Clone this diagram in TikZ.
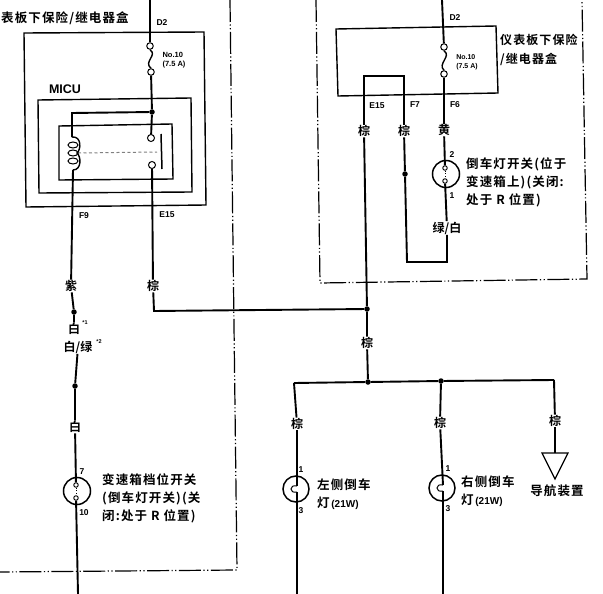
\documentclass[tikz,border=0pt]{standalone}
\usepackage{fontspec}
\newfontfamily\cjk{Noto Sans CJK SC Bold}
\newfontfamily\cjkw{Noto Sans CJK SC Bold}[LetterSpace=9]
\setmainfont{Liberation Sans}
\newcommand{\wattlabel}{{\rmfamily\bfseries\fontsize{10}{18}\selectfont\,(21W)}}
\usetikzlibrary{calc}
\tikzset{
 x=1pt,y=-1pt,
 wire/.style={line width=1.9pt,line join=miter},
 thin wire/.style={line width=1.4pt},
 box/.style={line width=1.4pt},
 border/.style={line width=1.2pt,dash pattern=on 22pt off 2.5pt on 1.2pt off 2.5pt on 1.2pt off 2.5pt},
 zh/.style={font=\cjkw\fontsize{12.5}{18}\selectfont,inner sep=0pt,align=left,anchor=west},
 wl/.style={font=\cjk\fontsize{12}{12}\selectfont,inner sep=0.5pt},
 pin/.style={font=\bfseries\fontsize{8.5}{9.5}\selectfont,inner sep=0pt},
 dot/.style={circle,fill=black,inner sep=0pt,minimum size=5.5pt},
 fusec/.style={circle,draw,fill=white,line width=1pt,inner sep=0pt,minimum size=6.5pt},
 sym/.style={circle,draw,line width=1.5pt,inner sep=0pt,minimum size=27pt},
 smallc/.style={circle,draw,line width=.9pt,inner sep=0pt,minimum size=4.5pt},
}
\begin{document}
\begin{tikzpicture}
\useasboundingbox (0,0) rectangle (603,594);
\fill[white] (0,0) rectangle (603,594);
% region borders
\draw[border] (230,0) -- (237,570) -- (0,572);
\draw[border] (316,0) -- (320,283) -- (587,279) -- (582,0);
% fuse boxes
\draw[box] (24,33) -- (204,32) -- (206,205) -- (26,207) -- cycle;
\draw[box] (38,100) -- (191,98) -- (192,192) -- (39,193) -- cycle;
\draw[box] (59,126) -- (172,124) -- (173,179) -- (59,180) -- cycle;
\draw[box] (336,29) -- (496,26) -- (498,93) -- (338,96) -- cycle;
% coordinates
\coordinate (topL) at (150,0);
\coordinate (topR) at (442,0);
\coordinate (tl1) at (72,113);
\coordinate (coilT) at (72,137);
\coordinate (coilB) at (73,170);
\coordinate (bend1) at (154,311);
\coordinate (botA) at (78,594);
\coordinate (botB) at (297,594);
\coordinate (botC) at (443,594);
\coordinate (busL) at (294,383);
\coordinate (busR) at (554,380);
\coordinate (r1) at (404,76);
\coordinate (r2) at (364,76);
\coordinate (r3) at (447,262);
\coordinate (r4) at (407,262);
\coordinate (navT) at (555,453);
\coordinate (lpLt) at (297,486);
\coordinate (lpLb) at (297,492);
\coordinate (lpRt) at (443,485);
\coordinate (lpRb) at (443,491);
% junctions
\node[dot] (j1) at (152,112) {};
\node[dot] (j2) at (367,309) {};
\node[dot] (j3) at (368,382) {};
\node[dot] (j4) at (441,381) {};
\node[dot] (j5) at (405,174) {};
\node[dot] (j6) at (74,312) {};
\node[dot] (j7) at (75,386) {};
% wire labels
\node[wl] (wZi) at (71,286) {紫};
\node[wl] (wBai1) at (74,329) {白};
\node[wl] (wBaiLv) at (78,347) {白/绿};
\node[wl] (wBai2) at (75,427) {白};
\node[wl] (wZ1) at (153,286) {棕};
\node[wl] (wZ2) at (367,343) {棕};
\node[wl] (wZ3) at (297,424) {棕};
\node[wl] (wZ4) at (440,423) {棕};
\node[wl] (wZ5) at (555,421) {棕};
\node[wl] (wZ6) at (364,131) {棕};
\node[wl] (wZ7) at (404,131) {棕};
\node[wl] (wH) at (444,130) {黄};
\node[wl] (wLB) at (447,228) {绿/白};
% fuses
\node[fusec] (fL1) at (150,46) {};
\node[fusec] (fL2) at (151,72) {};
\node[fusec] (fR1) at (444,47) {};
\node[fusec] (fR2) at (444,74) {};
\draw[thin wire] (fL1.south) .. controls (158,55) and (143,62) .. (fL2.north);
\draw[thin wire] (fR1.south) .. controls (452,56) and (437,64) .. (fR2.north);
% relay contacts
\node[fusec,minimum size=7pt] (cA) at (151,138) {};
\node[fusec,minimum size=7pt] (cB) at (152,165) {};
\draw[line width=1.5pt] (161,134) -- (162,169);
\draw[line width=1pt,gray,dash pattern=on 3pt off 2.5pt] (78,153) -- (157,152);
% relay coil
\foreach \yy in {145,153,161}{
 \draw[line width=1pt] (73,\yy) ellipse (5pt and 3pt);
}
\draw[line width=1.4pt] (72,137) .. controls (82,136) and (81,150) .. (77,153) .. controls (81,156) and (82,170) .. (73,170);
% switches and lamps
\node[sym] (swA) at (77,491) {};
\node[sym] (swB) at (446,174) {};
\node[sym,minimum size=26pt] (lpL) at (296,489) {};
\node[sym,minimum size=26pt] (lpR) at (442,488) {};
\node[smallc] (swA1) at (76,485) {};
\node[smallc] (swA2) at (76,498) {};
\node[smallc] (swB1) at (445,168) {};
\node[smallc] (swB2) at (445,181) {};
\draw[line width=.7pt,dotted] (swA1) -- (swA2);
\draw[line width=.7pt,dotted] (swB1) -- (swB2);
\draw[line width=1pt] (lpLt) .. controls (289,484) and (289,494) .. (lpLb);
\draw[line width=1pt] (lpRt) .. controls (435,483) and (435,493) .. (lpRb);
% nav triangle
\draw[line width=1.2pt] (542,453) -- (568,453) -- (555,479) -- cycle;
% wires
\draw[wire] (topL) -- (fL1);
\draw[wire] (fL2) -- (j1) -- (cA);
\draw[wire] (j1) -- (tl1) -- (coilT);
\draw[wire] (coilB) -- (wZi);
\draw[wire] (wZi) -- (j6) -- (wBai1);
\draw[wire] (wBaiLv) -- (j7) -- (wBai2);
\draw[wire] (wBai2) -- (swA1);
\draw[wire] (swA2) -- (botA);
\draw[wire] (cB) -- (wZ1);
\draw[wire] (wZ1) -- (bend1) -- (j2);
\draw[wire] (wZ6) -- (j2) -- (wZ2);
\draw[wire] (wZ2) -- (j3);
\draw[wire] (busL) -- (j3) -- (j4) -- (busR);
\draw[wire] (busL) -- (wZ3);
\draw[wire] (wZ3) -- (lpLt);
\draw[wire] (lpLb) -- (botB);
\draw[wire] (j4) -- (wZ4);
\draw[wire] (wZ4) -- (lpRt);
\draw[wire] (lpRb) -- (botC);
\draw[wire] (busR) -- (wZ5);
\draw[wire] (wZ5) -- (navT);
\draw[wire] (topR) -- (fR1);
\draw[wire] (fR2) -- (wH);
\draw[wire] (wH) -- (swB1);
\draw[wire] (swB2) -- (wLB);
\draw[wire] (wLB) -- (r3) -- (r4) -- (j5) -- (wZ7);
\draw[wire] (wZ7) -- (r1) -- (r2) -- (wZ6);
% text labels
\node[zh] (tL) at (1,18) {表板下保险/继电器盒};
\node[zh,font=\cjkw\fontsize{12}{19}\selectfont] (tR) at (500,49.5) {仪表板下保险\\/继电器盒};
\node[zh] (tSwB) at (466,182) {倒车灯开关(位于\\变速箱上)(关闭:\\处于 R 位置)};
\node[zh] (tSwA) at (102,498) {变速箱档位开关\\(倒车灯开关)(关\\闭:处于 R 位置)};
\node[zh] (tLpL) at (317,494) {左侧倒车\\灯\wattlabel};
\node[zh] (tLpR) at (461,491) {右侧倒车\\灯\wattlabel};
\node[zh,anchor=center] (tNav) at (557,491) {导航装置};
\node[font=\bfseries\fontsize{12.5}{13}\selectfont,inner sep=0pt] (tMICU) at (65,89) {MICU};
\node[pin] (pD2L) at (162,23) {D2};
\node[pin] (pD2R) at (455,18) {D2};
\node[pin,align=left,font=\bfseries\fontsize{7.5}{9.5}\selectfont] (pFL) at (174,60) {No.10\\(7.5 A)};
\node[pin,align=left,font=\bfseries\fontsize{7}{9}\selectfont] (pFR) at (467,62) {No.10\\(7.5 A)};
\node[pin] (pF9) at (84,216) {F9};
\node[pin] (pE15L) at (167,215) {E15};
\node[pin] (pE15R) at (377,106) {E15};
\node[pin] (pF7) at (415,105) {F7};
\node[pin] (pF6) at (455,105) {F6};
\node[pin] (p2) at (452,155) {2};
\node[pin] (p1) at (452,196) {1};
\node[pin] (p7) at (82,472) {7};
\node[pin] (p10) at (84,513) {10};
\node[pin] (p1L) at (301,470) {1};
\node[pin] (p3L) at (301,511) {3};
\node[pin] (p1R) at (448,469) {1};
\node[pin] (p3R) at (448,509) {3};
\node[pin,font=\bfseries\fontsize{5.5}{6}\selectfont] (s1) at (85,323) {*1};
\node[pin,font=\bfseries\fontsize{5.5}{6}\selectfont] (s2) at (99,342) {*2};
\end{tikzpicture}
\end{document}
